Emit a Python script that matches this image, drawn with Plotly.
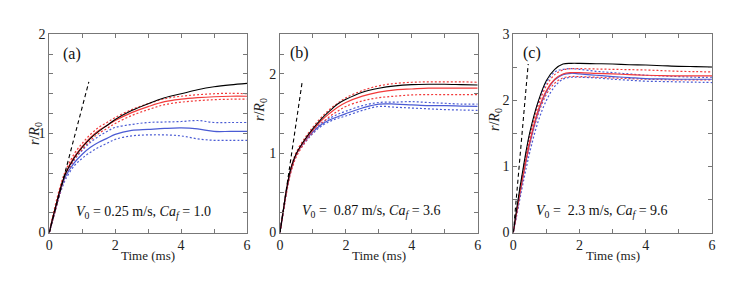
import plotly.graph_objects as go

# ---------------- data ----------------
T = [0, 0.1, 0.2, 0.3, 0.4, 0.5, 0.75, 1, 1.25, 1.5, 1.75, 2, 2.5, 3, 3.5, 4, 4.5, 5, 5.5, 6]

a_model = [0, 0.14, 0.27, 0.40, 0.51, 0.60, 0.75, 0.86, 0.95, 1.02, 1.08, 1.14, 1.23, 1.30, 1.36, 1.40, 1.44, 1.47, 1.49, 1.505]
a_red = [0, 0.14, 0.27, 0.40, 0.51, 0.60, 0.76, 0.87, 0.96, 1.03, 1.08, 1.13, 1.21, 1.27, 1.32, 1.345, 1.36, 1.37, 1.375, 1.375]
a_red_hi = [0, 0.16, 0.30, 0.43, 0.54, 0.63, 0.79, 0.90, 0.99, 1.06, 1.11, 1.16, 1.24, 1.30, 1.35, 1.375, 1.39, 1.40, 1.405, 1.40]
a_red_lo = [0, 0.12, 0.24, 0.37, 0.48, 0.57, 0.73, 0.84, 0.93, 1.00, 1.05, 1.10, 1.18, 1.24, 1.29, 1.315, 1.33, 1.34, 1.345, 1.345]
a_blue = [0, 0.13, 0.26, 0.38, 0.49, 0.57, 0.70, 0.79, 0.86, 0.91, 0.95, 0.99, 1.03, 1.04, 1.05, 1.055, 1.045, 1.02, 1.02, 1.02]
a_blue_hi = [0, 0.14, 0.27, 0.40, 0.51, 0.60, 0.73, 0.83, 0.91, 0.97, 1.02, 1.06, 1.09, 1.11, 1.115, 1.12, 1.13, 1.11, 1.11, 1.11]
a_blue_lo = [0, 0.12, 0.24, 0.36, 0.46, 0.54, 0.67, 0.75, 0.81, 0.86, 0.90, 0.94, 0.975, 0.985, 0.985, 0.975, 0.945, 0.93, 0.93, 0.93]
a_tangent_t = [0, 1.2]
a_tangent_r = [0, 1.52]

b_model = [0, 0.28, 0.55, 0.76, 0.90, 1.00, 1.17, 1.31, 1.43, 1.53, 1.62, 1.68, 1.77, 1.82, 1.85, 1.865, 1.87, 1.87, 1.865, 1.86]
b_red = [0, 0.27, 0.53, 0.74, 0.88, 0.99, 1.16, 1.29, 1.41, 1.50, 1.58, 1.64, 1.72, 1.77, 1.80, 1.81, 1.82, 1.82, 1.82, 1.82]
b_red_hi = [0, 0.29, 0.56, 0.77, 0.91, 1.02, 1.19, 1.33, 1.45, 1.55, 1.63, 1.70, 1.79, 1.85, 1.88, 1.895, 1.90, 1.90, 1.90, 1.895]
b_red_lo = [0, 0.25, 0.50, 0.71, 0.85, 0.96, 1.13, 1.26, 1.37, 1.46, 1.53, 1.59, 1.66, 1.70, 1.72, 1.735, 1.74, 1.74, 1.74, 1.74]
b_blue = [0, 0.27, 0.53, 0.74, 0.88, 0.99, 1.15, 1.27, 1.36, 1.42, 1.46, 1.50, 1.57, 1.62, 1.62, 1.61, 1.60, 1.60, 1.595, 1.59]
b_blue_hi = [0, 0.28, 0.54, 0.75, 0.89, 1.00, 1.17, 1.29, 1.38, 1.44, 1.49, 1.53, 1.60, 1.64, 1.645, 1.65, 1.64, 1.63, 1.62, 1.62]
b_blue_lo = [0, 0.26, 0.52, 0.73, 0.87, 0.98, 1.13, 1.25, 1.34, 1.40, 1.44, 1.47, 1.54, 1.59, 1.58, 1.57, 1.56, 1.55, 1.545, 1.54]
b_tangent_t = [0, 0.68]
b_tangent_r = [0, 1.92]

c_model = [0, 0.35, 0.68, 0.98, 1.27, 1.52, 1.98, 2.30, 2.47, 2.55, 2.56, 2.56, 2.555, 2.55, 2.54, 2.535, 2.525, 2.515, 2.51, 2.505]
c_red = [0, 0.30, 0.60, 0.88, 1.14, 1.38, 1.85, 2.15, 2.32, 2.40, 2.42, 2.42, 2.41, 2.40, 2.39, 2.38, 2.375, 2.37, 2.37, 2.37]
c_red_hi = [0, 0.32, 0.63, 0.92, 1.19, 1.44, 1.92, 2.22, 2.39, 2.46, 2.48, 2.48, 2.475, 2.47, 2.465, 2.46, 2.45, 2.44, 2.435, 2.43]
c_red_lo = [0, 0.28, 0.57, 0.84, 1.10, 1.33, 1.79, 2.09, 2.26, 2.34, 2.36, 2.36, 2.35, 2.34, 2.33, 2.32, 2.315, 2.31, 2.31, 2.31]
c_blue = [0, 0.29, 0.58, 0.86, 1.12, 1.35, 1.82, 2.13, 2.31, 2.39, 2.41, 2.40, 2.38, 2.36, 2.345, 2.33, 2.325, 2.32, 2.32, 2.32]
c_blue_hi = [0, 0.33, 0.65, 0.95, 1.24, 1.49, 1.96, 2.27, 2.43, 2.47, 2.48, 2.47, 2.44, 2.42, 2.40, 2.38, 2.37, 2.36, 2.35, 2.35]
c_blue_lo = [0, 0.25, 0.51, 0.76, 1.00, 1.22, 1.68, 2.00, 2.21, 2.32, 2.35, 2.35, 2.34, 2.32, 2.305, 2.29, 2.285, 2.28, 2.275, 2.27]
c_tangent_t = [0, 0.45]
c_tangent_r = [0, 2.55]

x_ticks = [0, 1, 2, 3, 4, 5, 6]
x_ticktext = ["0", "", "2", "", "4", "", "6"]
a_yticks = [0, 0.2, 0.4, 0.6, 0.8, 1.0, 1.2, 1.4, 1.6, 1.8, 2.0]
a_yticktext = ["0", "", "", "", "", "1", "", "", "", "", "2"]
b_yticks = [0, 0.25, 0.5, 0.75, 1.0, 1.25, 1.5, 1.75, 2.0, 2.25, 2.5]
b_yticktext = ["0", "", "", "", "1", "", "", "", "2", "", ""]
c_yticks = [0, 0.5, 1.0, 1.5, 2.0, 2.5, 3.0]
c_yticktext = ["0", "", "1", "", "2", "", "3"]

panel_labels = ["(a)", "(b)", "(c)"]
conditions = [
    "<i>V</i><sub>0</sub> = 0.25 m/s, <i>Ca</i><sub><i>f</i></sub> = 1.0",
    "<i>V</i><sub>0</sub> =  0.87 m/s, <i>Ca</i><sub><i>f</i></sub> = 3.6",
    "<i>V</i><sub>0</sub> =  2.3 m/s, <i>Ca</i><sub><i>f</i></sub> = 9.6",
]

# ---------------- styling ----------------
RED = "#f23a3a"
BLUE = "#4a5bd4"
FONT = "Liberation Serif, Times New Roman, serif"
W, H = 747, 284

panels = [
    dict(model=a_model, red=a_red, red_hi=a_red_hi, red_lo=a_red_lo, blue=a_blue, blue_hi=a_blue_hi,
         blue_lo=a_blue_lo, tt=a_tangent_t, tr=a_tangent_r, yt=a_yticks, ytt=a_yticktext, yr=[0, 2],
         px=(49.3, 247.0), ylab=(35, 134), lab=(72, 54), cond=(143, 212)),
    dict(model=b_model, red=b_red, red_hi=b_red_hi, red_lo=b_red_lo, blue=b_blue, blue_hi=b_blue_hi,
         blue_lo=b_blue_lo, tt=b_tangent_t, tr=b_tangent_r, yt=b_yticks, ytt=b_yticktext, yr=[0, 2.5],
         px=(280.0, 477.7), ylab=(260, 110), lab=(299, 53), cond=(371, 211)),
    dict(model=c_model, red=c_red, red_hi=c_red_hi, red_lo=c_red_lo, blue=c_blue, blue_hi=c_blue_hi,
         blue_lo=c_blue_lo, tt=c_tangent_t, tr=c_tangent_r, yt=c_yticks, ytt=c_yticktext, yr=[0, 3],
         px=(513.3, 712.0), ylab=(495, 120), lab=(532, 53), cond=(602, 211)),
]

y_top, y_bot = 34.3, 232.5
ydom = [(H - y_bot) / H, (H - y_top) / H]

fig = go.Figure()
annotations = []
layout = {}

for i, p in enumerate(panels):
    n = i + 1
    xa = "x" if n == 1 else f"x{n}"
    ya = "y" if n == 1 else f"y{n}"
    common = dict(x=T, xaxis=xa, yaxis=ya, mode="lines", showlegend=False, hoverinfo="skip")
    for key, col in [("blue_hi", BLUE), ("blue_lo", BLUE), ("red_hi", RED), ("red_lo", RED)]:
        fig.add_trace(go.Scatter(y=p[key], line=dict(color=col, width=1.2, dash="2px,2px", shape="spline"), **common))
    fig.add_trace(go.Scatter(y=p["blue"], line=dict(color=BLUE, width=1.2, shape="spline"), **common))
    fig.add_trace(go.Scatter(y=p["red"], line=dict(color=RED, width=1.2, shape="spline"), **common))
    fig.add_trace(go.Scatter(y=p["model"], line=dict(color="black", width=1.1, shape="spline"), **common))
    fig.add_trace(go.Scatter(x=p["tt"], y=p["tr"], xaxis=xa, yaxis=ya, mode="lines", showlegend=False,
                             hoverinfo="skip", line=dict(color="black", width=1.1, dash="4px,3px")))

    axis_common = dict(showline=True, linecolor="#777", linewidth=1, mirror="ticks", ticks="inside",
                       ticklen=4, tickcolor="#777", showgrid=False, zeroline=False, automargin=False,
                       tickfont=dict(family=FONT, size=14, color="#222"))
    xname = "xaxis" if n == 1 else f"xaxis{n}"
    yname = "yaxis" if n == 1 else f"yaxis{n}"
    layout[xname] = dict(domain=[p["px"][0] / W, p["px"][1] / W], range=[0, 6], tickvals=x_ticks,
                         ticktext=x_ticktext, anchor=ya, **axis_common)
    layout[yname] = dict(domain=ydom, range=p["yr"], tickvals=p["yt"], ticktext=p["ytt"], anchor=xa,
                         **axis_common)

    cx = (p["px"][0] + p["px"][1]) / 2
    annotations.append(dict(text="Time (ms)", x=cx / W, y=(H - 255) / H, xref="paper", yref="paper",
                            showarrow=False, xanchor="center", yanchor="middle",
                            font=dict(family=FONT, size=13, color="#222")))
    annotations.append(dict(text="<i>r</i>/<i>R</i><sub>0</sub>", x=p["ylab"][0] / W, y=(H - p["ylab"][1]) / H,
                            xref="paper", yref="paper", showarrow=False, textangle=-90,
                            xanchor="center", yanchor="middle",
                            font=dict(family=FONT, size=14, color="#222")))
    annotations.append(dict(text=panel_labels[i], x=p["lab"][0] / W, y=(H - p["lab"][1]) / H,
                            xref="paper", yref="paper", showarrow=False, xanchor="center", yanchor="middle",
                            font=dict(family=FONT, size=16, color="#111")))
    annotations.append(dict(text=conditions[i], x=p["cond"][0] / W, y=(H - p["cond"][1]) / H,
                            xref="paper", yref="paper", showarrow=False, xanchor="center", yanchor="middle",
                            font=dict(family=FONT, size=14, color="#111")))

fig.update_layout(width=W, height=H, margin=dict(l=0, r=0, t=0, b=0), plot_bgcolor="white",
                  paper_bgcolor="white", annotations=annotations,
                  font=dict(family=FONT), **layout)

fig.write_html("out.html", config={"displayModeBar": False, "staticPlot": True},
               post_script="document.body.style.margin='0';document.body.style.overflow='hidden';")
